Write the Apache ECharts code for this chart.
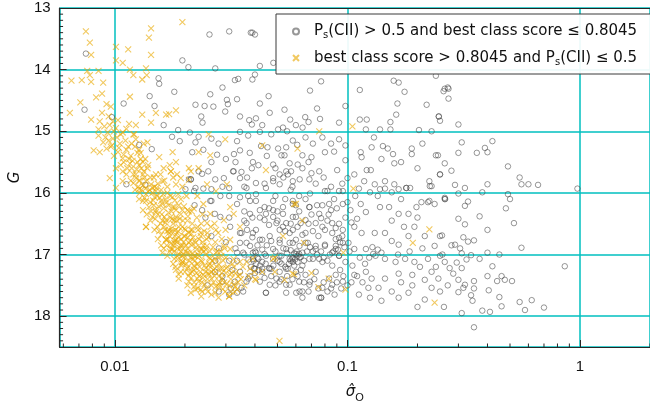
<!DOCTYPE html>
<html>
<head>
<meta charset="utf-8">
<script src="https://cdn.jsdelivr.net/npm/echarts@6/dist/echarts.min.js"></script>
<style>
  html, body { margin: 0; padding: 0; background: #ffffff; }
  #chart { width: 650px; height: 408px; }
</style>
</head>
<body>
<div id="chart"></div>
<script>
// Series labels
const grayName = 'Ps(CII) > 0.5 and best class score ≤ 0.8045';
const yellowName = 'best class score > 0.8045 and Ps(CII) ≤ 0.5';

// Axis ranges and tick labels
const xMin = 0.00578, xMax = 2;
const yMin = 13, yMax = 18.5;
const xTickValues = [0.01, 0.1, 1];
const xTickLabels = ['0.01', '0.1', '1'];
const yTickLabels = ['13', '14', '15', '16', '17', '18'];
const xMinorTicks = [0.006, 0.007, 0.008, 0.009,
  0.02, 0.03, 0.04, 0.05, 0.06, 0.07, 0.08, 0.09,
  0.2, 0.3, 0.4, 0.5, 0.6, 0.7, 0.8, 0.9, 2];
const yMinorTicks = [];
for (let k = 131; k < 185; k++) { if (k % 10 !== 0) yMinorTicks.push(k / 10); }

// [sigma_O, G]: P_s(CII) > 0.5 and best class score <= 0.8045
const grayPoints = [
  [0.0075,13.74],[0.0074,14.65],[0.0097,14.77],[0.0109,14.55],[0.0141,14.43],[0.0148,14.59],[0.0154,14.14],[0.0155,14.23],
  [0.018,14.36],[0.0195,13.85],[0.0207,13.96],[0.027,13.98],[0.0255,13.43],[0.031,13.38],[0.0384,13.4],[0.029,14.29],
  [0.0257,14.4],[0.0303,14.49],[0.0335,14.48],[0.0328,14.17],[0.0339,14.15],[0.0222,14.57],[0.0243,14.59],[0.0265,14.6],
  [0.0306,14.56],[0.0298,14.68],[0.0235,14.76],[0.0238,14.86],[0.0345,14.76],[0.0378,14.82],[0.0162,14.9],[0.0187,14.98],
  [0.021,15.02],[0.0176,15.09],[0.0229,15.09],[0.019,15.16],[0.0222,15.18],[0.026,15.12],[0.0279,15.2],[0.0335,15.16],
  [0.0345,15.01],[0.0374,15.07],[0.0345,15.31],[0.0325,15.37],[0.0275,15.38],[0.0215,15.34],[0.0127,15.22],[0.0144,15.29],
  [0.0322,15.65],[0.035,15.66],[0.0388,15.6],[0.037,15.75],[0.027,15.78],[0.0237,15.69],[0.0212,15.78],[0.0112,15.86],
  [0.039,13.4],[0.040,13.43],[0.042,13.94],[0.048,13.89],[0.040,14.08],[0.039,14.16],[0.069,14.34],[0.077,14.19],
  [0.113,14.33],[0.158,14.18],[0.166,14.21],[0.176,14.36],[0.24,14.1],[0.262,14.31],[0.27,14.29],
  [0.0458,14.43],[0.042,14.55],[0.0536,14.65],[0.0463,14.7],[0.074,14.63],[0.098,14.59],[0.164,14.55],[0.219,14.57],
  [0.0404,14.79],[0.0388,14.89],[0.0567,14.81],[0.0658,14.77],[0.068,14.85],[0.0762,14.8],[0.092,14.86],[0.113,14.81],
  [0.121,14.81],[0.153,14.85],[0.162,14.73],[0.247,14.76],[0.0528,14.94],[0.0641,14.94],[0.12,14.97],[0.138,14.97],
  [0.153,14.97],[0.203,14.98],[0.042,15.01],[0.0503,14.97],[0.0425,15.24],[0.0453,15.26],[0.0503,15.28],[0.0545,15.26],
  [0.0582,15.15],[0.0608,15.22],[0.052,15.39],[0.0536,15.39],[0.064,15.39],[0.07,15.42],[0.08,15.34],[0.0876,15.33],
  [0.092,15.13],[0.098,15.23],[0.114,15.34],[0.115,15.42],[0.127,15.26],[0.149,15.28],[0.157,15.37],[0.142,15.24],
  [0.159,15.52],[0.189,15.28],[0.189,15.37],[0.24,15.39],[0.25,15.7],[0.0392,15.5],[0.0414,15.55],[0.0479,15.54],
  [0.0564,15.52],[0.0611,15.54],[0.0572,15.65],[0.07,15.68],[0.0756,15.65],[0.0903,15.63],[0.098,15.47],[0.1,15.76],
  [0.107,15.7],[0.118,15.81],[0.121,15.63],[0.126,15.63],[0.131,15.86],[0.145,15.81],[0.159,15.86],[0.179,15.92],
  [0.225,15.81],[0.226,15.89],[0.0404,15.84],[0.044,15.85],[0.0479,15.81],[0.0511,15.7],[0.0554,15.7],[0.0623,15.78],
  [0.0686,15.78],[0.082,15.97],[0.092,15.97],[0.138,15.94],[0.155,15.99],[0.166,15.94],[0.186,15.92],[0.208,16.15],
  [0.225,16.13],[0.262,16.08],
  [0.0404,16.13],[0.044,16.23],[0.0479,16.28],[0.0528,16.34],[0.0582,16.18],[0.0686,16.23],[0.0756,16.34],[0.0834,16.18],
  [0.044,16.44],[0.0495,16.49],[0.0528,16.55],[0.0582,16.6],[0.0629,16.49],[0.066,16.65],[0.073,16.49],[0.08,16.6],
  [0.089,16.57],[0.0392,16.65],[0.042,16.76],[0.0463,16.7],[0.0511,16.76],[0.0564,16.81],[0.0622,16.86],[0.0675,16.81],
  [0.073,16.91],[0.08,16.86],[0.089,16.86],[0.0955,16.81],[0.0392,16.97],[0.0414,17.07],[0.044,16.99],[0.0479,17.07],
  [0.052,17.02],[0.0564,17.07],[0.06,16.99],[0.0622,17.05],[0.064,16.97],[0.0686,17.07],[0.0756,17.07],[0.086,16.97],
  [0.092,17.02],[0.0398,17.23],[0.043,17.28],[0.0471,17.23],[0.0511,17.28],[0.0554,17.23],[0.06,17.28],[0.066,17.33],
  [0.073,17.28],[0.0834,17.39],[0.089,17.33],[0.042,17.44],[0.0463,17.49],[0.0511,17.44],[0.0564,17.49],[0.0622,17.6],
  [0.0686,17.49],[0.0756,17.7],[0.0446,17.62],[0.0545,17.62],[0.064,17.7],[0.0771,17.7],
  [0.0212,15.78],[0.0201,15.94],[0.0219,15.97],[0.024,15.93],[0.0229,15.65],[0.0252,15.65],[0.0294,15.76],[0.0284,16.05],
  [0.0257,16.13],[0.0269,16.34],[0.0284,16.39],[0.0324,15.65],[0.0345,15.76],[0.0368,15.92],[0.0345,16.07],[0.0381,16.13],
  [0.0404,16.02],[0.0446,15.92],[0.0479,15.76],[0.0511,15.86],[0.0545,15.65],[0.0582,15.81],[0.0313,16.55],[0.0345,16.65],
  [0.0368,16.49],[0.0381,16.34],[0.042,16.28],[0.0446,16.34],[0.0479,16.39],[0.0404,16.6],[0.043,16.76],[0.0381,16.86],
  [0.0356,16.97],[0.0345,16.81],[0.0404,16.97],[0.0392,17.07],[0.0446,17.02],[0.0479,16.91],[0.0511,16.81],[0.0545,16.91],
  [0.0582,16.81],[0.0564,16.65],[0.0511,16.6],[0.0545,16.49],[0.0582,16.39],[0.0528,16.23],[0.0582,16.13],[0.0479,16.13],
  [0.043,17.23],[0.0463,17.23],[0.0511,17.12],[0.0545,17.23],[0.0582,17.12],[0.0495,17.39],[0.0545,17.49],[0.0446,17.62],
  [0.0602,17.62],[0.0335,17.62],[0.0368,17.44],
  [0.069,16.01],[0.080,15.97],[0.0876,16.1],[0.0955,15.97],[0.112,15.93],[0.125,15.99],[0.145,15.93],[0.179,15.92],
  [0.23,15.89],[0.06,16.2],[0.0686,16.23],[0.078,16.2],[0.085,16.28],[0.0955,16.18],[0.103,16.28],[0.114,16.18],
  [0.12,16.31],[0.138,16.23],[0.151,16.23],[0.166,16.34],[0.183,16.34],[0.198,16.23],[0.222,16.15],[0.237,16.18],
  [0.262,16.1],[0.06,16.39],[0.066,16.44],[0.077,16.41],[0.086,16.49],[0.0955,16.6],[0.107,16.55],[0.115,16.65],
  [0.131,16.65],[0.145,16.65],[0.155,16.78],[0.166,16.84],[0.183,16.7],[0.194,16.55],[0.215,16.7],[0.237,16.86],
  [0.25,16.7],[0.06,16.76],[0.066,16.81],[0.073,16.86],[0.08,16.84],[0.089,16.91],[0.092,16.73],[0.101,16.81],
  [0.107,16.91],[0.12,16.91],[0.129,16.99],[0.145,17.07],[0.161,17.12],[0.177,17.07],[0.194,17.12],[0.222,17.07],
  [0.25,17.02],[0.058,17.07],[0.064,17.18],[0.071,17.07],[0.078,17.12],[0.086,17.18],[0.092,17.02],[0.105,17.18],
  [0.107,17.33],[0.12,17.28],[0.127,17.39],[0.145,17.39],[0.166,17.31],[0.19,17.33],[0.215,17.41],[0.23,17.28],
  [0.246,17.39],[0.062,17.44],[0.069,17.44],[0.078,17.54],[0.086,17.49],[0.0955,17.44],[0.112,17.65],[0.123,17.54],
  [0.136,17.54],[0.166,17.7],[0.183,17.62],[0.215,17.73],[0.23,17.54],[0.077,17.7],[0.064,17.6],
  [0.259,14.35],[0.272,14.31],[0.272,14.47],[0.247,14.76],[0.25,14.83],[0.30,14.89],[0.31,15.18],[0.42,15.16],
  [0.39,15.27],[0.40,15.34],[0.36,15.35],[0.30,15.35],[0.245,15.39],[0.262,15.52],[0.49,15.57],[0.28,15.64],
  [0.25,15.7],[0.55,15.75],[0.56,15.86],[0.60,15.86],[0.66,15.87],[0.40,15.86],[0.29,15.87],[0.32,15.92],
  [0.30,16.01],[0.38,15.99],[0.975,15.93],[0.49,16.02],[0.50,16.1],[0.263,16.1],[0.33,16.14],[0.32,16.21],
  [0.48,16.25],[0.37,16.38],[0.30,16.42],[0.32,16.51],[0.52,16.49],[0.40,16.6],[0.56,16.89],[0.255,16.69],
  [0.315,16.72],[0.33,16.79],[0.35,16.77],[0.28,16.85],[0.29,16.84],[0.305,16.9],[0.31,16.98],[0.256,17.0],
  [0.34,17.01],[0.37,17.07],[0.40,16.97],[0.45,17.0],[0.325,17.08],[0.262,17.12],[0.295,17.13],[0.275,17.22],
  [0.31,17.22],[0.285,17.31],[0.42,17.19],[0.86,17.19],[0.40,17.35],[0.46,17.35],[0.44,17.43],[0.475,17.41],
  [0.51,17.43],[0.30,17.41],[0.35,17.43],[0.32,17.49],[0.315,17.54],[0.35,17.55],[0.405,17.58],[0.30,17.61],
  [0.34,17.66],[0.345,17.75],[0.45,17.69],[0.55,17.77],[0.62,17.74],[0.46,17.84],[0.58,17.9],[0.70,17.86],
  [0.38,17.91],[0.41,17.93],[0.31,17.95],[0.35,18.18],
  [0.0135,15.87],[0.0208,15.78],[0.0222,15.92],[0.026,15.94],[0.031,15.92],[0.0335,16.18],[0.0374,16.05],[0.026,16.13],
  [0.0237,16.28],[0.035,16.65],[0.0368,16.81],[0.0335,16.97],[0.031,17.1],[0.0345,17.28],[0.0374,17.39],[0.0328,17.44],
  [0.035,17.54],[0.031,17.65],[0.0356,17.6],[0.029,17.44],[0.027,17.28],[0.0398,17.23],
  [0.059,16.98],[0.061,17.02],[0.0605,16.95],[0.058,17.05],[0.062,16.99],[0.0595,17.08],[0.057,16.93],[0.063,17.04],
  [0.0395,17.1],[0.0405,17.15],[0.041,17.05],[0.0385,17.2],[0.042,17.18],[0.0375,17.08],[0.043,17.12],[0.0415,17.25],
  [0.040,16.95],[0.0445,17.15],[0.046,17.22],[0.048,17.18],[0.05,17.1],[0.052,17.15],[0.054,17.2],[0.056,17.15],
  [0.089,16.75],[0.093,16.8],[0.097,16.88],[0.091,16.92],[0.095,16.7],[0.128,16.88],[0.135,16.92],[0.14,16.97],
  [0.132,17.02],
  [0.036,16.45],[0.037,16.6],[0.039,16.72],[0.041,16.85],[0.043,16.92],[0.045,16.85],[0.047,16.78],[0.049,16.95],
  [0.051,17.02],[0.053,16.9],[0.055,16.98],[0.057,17.1],[0.059,17.18],[0.061,17.12],[0.063,17.25],[0.065,17.1],
  [0.067,16.95],[0.069,16.88],[0.071,16.95],[0.074,17.0],[0.077,16.95],[0.079,17.05],[0.082,17.1],[0.084,17.0],
  [0.087,16.95],[0.036,17.0],[0.038,17.35],[0.04,17.3],[0.044,17.38],[0.047,17.35],[0.049,17.5],[0.052,17.4],
  [0.055,17.35],[0.058,17.4],[0.061,17.35],[0.065,17.45],[0.068,17.6],[0.072,17.4],[0.075,17.55],[0.079,17.45],
  [0.082,17.6],[0.085,17.55],[0.088,17.65],[0.094,17.55],[0.1,17.5],[0.104,17.45],[0.11,17.35],[0.116,17.45],
  [0.119,17.15],[0.124,17.05],[0.113,17.05],[0.102,16.95],[0.098,17.12],[0.093,17.25],[0.096,17.35],[0.09,17.45],
  [0.042,16.4],[0.046,16.52],[0.05,16.45],[0.054,16.62],[0.057,16.5],[0.061,16.55],[0.064,16.68],[0.068,16.5],
  [0.071,16.62],[0.075,16.7],[0.078,16.55],[0.082,16.45],[0.086,16.65],[0.092,16.5],[0.098,16.4],[0.104,16.48],
  [0.11,16.42],[0.062,16.3],[0.066,16.1],[0.07,16.35],[0.074,16.2],[0.083,16.35],[0.09,16.25],[0.1,16.15],
  [0.108,16.05],[0.049,16.05],[0.054,16.1],[0.057,15.95],[0.062,16.05],[0.046,16.25],[0.05,16.3],[0.036,16.3],
  [0.039,16.4],
  [0.043,14.9],[0.047,15.05],[0.055,15.0],[0.06,14.9],[0.066,15.1],[0.071,15.2],[0.078,15.1],[0.085,15.2],
  [0.045,15.4],[0.049,15.6],[0.053,15.75],[0.058,15.9],[0.064,15.6],[0.068,15.5],[0.073,15.85],[0.079,15.75],
  [0.085,15.9],[0.095,15.85],[0.036,15.9],[0.038,15.35],[0.033,15.5],[0.03,15.45],[0.029,15.9],[0.031,16.05],
  [0.026,15.5],[0.024,15.3],
  [0.13,15.1],[0.14,15.45],[0.17,15.5],[0.2,15.6],[0.21,15.2],[0.23,15.0],[0.135,16.05],[0.17,16.1],
  [0.2,16.4],[0.155,16.45],[0.175,16.55],[0.21,16.9],[0.165,17.0],[0.185,16.95],[0.205,17.2],[0.24,17.2],
  [0.17,17.45],[0.155,17.6],[0.19,17.5],[0.25,17.6],[0.27,17.5],[0.26,17.85],[0.2,17.85],[0.14,17.75],
  [0.125,17.7],
  [0.026,16.7],[0.028,16.9],[0.03,16.8],[0.027,17.1],[0.029,17.35],[0.032,17.25],[0.033,16.9],[0.025,17.5],
  [0.0245,16.4],[0.022,16.2],[0.031,16.4],[0.0315,17.55],[0.028,17.6],[0.0335,17.1]
];

// [sigma_O, G]: best class score > 0.8045 and P_s(CII) <= 0.5
const yellowPoints = [
  [0.0075,13.38],[0.0078,13.56],[0.0079,13.76],[0.0143,13.33],[0.014,13.48],[0.0195,13.23],[0.0101,13.63],[0.0114,13.67],
  [0.0143,13.76],[0.0101,13.85],[0.0108,13.89],[0.0076,14.02],[0.0085,14.02],[0.0078,14.09],[0.0065,14.18],[0.0072,14.17],
  [0.0079,14.2],[0.0089,14.21],[0.0116,14.0],[0.012,14.09],[0.0131,14.16],[0.0137,14.09],[0.0136,13.98],[0.0088,14.39],
  [0.0083,14.45],[0.0071,14.53],[0.0092,14.56],[0.0116,14.44],[0.0064,14.7],[0.0079,14.81],[0.0086,14.84],[0.0094,14.76],
  [0.0098,14.84],[0.0103,14.82],[0.0131,14.73],[0.0143,14.86],[0.015,14.7],[0.0166,14.73],[0.0171,14.72],[0.0183,14.66],
  [0.0123,14.9],[0.0112,14.96],[0.009,14.92],[0.0085,14.97],[0.0108,15.02],[0.012,15.05],[0.0123,15.13],[0.0085,15.07],
  [0.0089,15.18],[0.0094,15.15],[0.0097,15.23],[0.0081,15.31],[0.0086,15.34],[0.0092,15.28],[0.0103,15.34],[0.0108,15.44],
  [0.0116,15.52],[0.0127,15.55],[0.0132,15.5],[0.0138,15.18],[0.0155,15.42],[0.0177,15.34],[0.0183,15.5],[0.0208,15.6],
  [0.0229,15.34],[0.0253,15.05],[0.0298,15.13],[0.0257,15.39],[0.0101,15.6],[0.0108,15.65],[0.0123,15.7],[0.0127,15.8],
  [0.0132,15.88],[0.013,15.6],[0.015,15.7],[0.016,15.81],[0.0174,15.65],[0.0183,15.86],[0.0208,15.79],[0.0136,15.92],
  [0.015,15.97],
  [0.0133,15.65],[0.0143,15.86],[0.0136,16.02],[0.0132,16.13],[0.0148,16.07],[0.0158,16.13],[0.014,16.23],[0.015,16.31],
  [0.0163,16.39],[0.0136,16.55],[0.0174,15.65],[0.0192,15.76],[0.0212,15.65],[0.0229,15.6],[0.0192,16.1],[0.018,16.23],
  [0.0205,16.28],[0.018,16.44],[0.0171,16.6],[0.0185,16.65],[0.0166,16.76],[0.018,16.81],[0.0192,16.86],[0.0174,16.91],
  [0.0198,16.7],[0.0212,16.6],[0.0222,16.81],[0.0234,16.65],[0.0249,16.49],[0.0205,16.97],[0.0219,17.02],[0.0234,16.91],
  [0.0249,16.86],[0.0185,17.02],[0.0195,17.12],[0.0205,17.23],[0.0219,17.18],[0.0237,17.12],[0.0257,17.07],[0.0272,16.97],
  [0.0294,16.86],[0.0313,16.76],[0.024,17.33],[0.026,17.28],[0.0284,17.23],[0.0226,17.39],[0.0219,17.52],[0.0234,17.57],
  [0.0272,17.52],[0.026,17.65],[0.0279,17.7],[0.031,17.68],[0.0324,17.49],[0.0335,17.57],[0.0345,17.33],[0.0368,17.12],
  [0.0381,17.23],[0.0398,17.28],[0.043,17.28],[0.0345,17.12],[0.0324,17.07],[0.0313,16.91],[0.0345,16.55],[0.0324,16.34],
  [0.0294,16.44],[0.0272,16.6],[0.0257,16.34],[0.024,16.18],[0.0226,16.05],[0.0272,15.97],[0.0303,15.86],[0.0249,15.86],
  [0.0313,16.23],[0.0479,17.07],[0.0487,17.28],[0.0404,17.41],
  [0.0095,15.76],[0.0108,15.81],[0.012,15.84],[0.0127,16.1],[0.0136,16.13],[0.0132,16.28],[0.0145,16.39],[0.0136,16.55],
  [0.015,16.28],[0.016,16.18],[0.0155,16.62],[0.0166,16.76],[0.0171,16.65],[0.0183,16.76],[0.0177,16.91],[0.016,16.97],
  [0.018,17.07],[0.0195,17.12],[0.0192,17.28],[0.0188,17.39],[0.0208,17.44],[0.0229,17.44],[0.0222,17.57],[0.0237,17.6],
  [0.0279,17.52],[0.031,17.68],[0.0195,17.02],[0.0208,16.81],[0.0222,17.02],[0.0237,16.91],[0.0253,17.18],[0.027,17.07],
  [0.029,17.23],[0.026,17.39],[0.0245,17.28],[0.0215,17.28],[0.0208,16.65],[0.0188,16.55],[0.0183,16.39],[0.0195,16.28],
  [0.0166,16.44],[0.0177,16.23],[0.0177,16.07],[0.0145,15.92],[0.0127,15.94],[0.0136,15.81],[0.0123,15.76],[0.0101,15.92],
  [0.0185,16.8],[0.0195,16.85],[0.0205,16.9],[0.021,16.78],[0.02,16.7],[0.0192,16.95],[0.0215,16.98],[0.0225,16.92],
  [0.0198,17.05],[0.0208,17.1],[0.0188,16.72],[0.0178,16.85],[0.0172,16.7],[0.0182,16.6],[0.0195,16.55],[0.0215,16.6],
  [0.023,16.75],[0.024,16.85],[0.0245,17.0],[0.0235,17.1],[0.022,17.2],[0.021,17.3],[0.0255,17.15],[0.0265,17.25],
  [0.028,17.35],[0.0265,17.45],[0.025,17.4],[0.023,17.35],[0.0165,16.1],[0.017,16.2],[0.0175,16.3],[0.0162,16.25],
  [0.0168,16.0],[0.0158,15.95],[0.0152,16.05],[0.0148,15.9],[0.0142,15.75],[0.0138,15.6],[0.0132,15.7],[0.0128,15.8],
  [0.0125,15.5],[0.0118,15.6],[0.0115,15.45],[0.0112,15.3],[0.0105,15.2],[0.0102,15.1],[0.0118,15.2],[0.0125,15.35],
  [0.013,15.95],[0.0145,16.0],[0.016,16.45],[0.0178,16.5],[0.0185,16.45],[0.0192,16.35],[0.0205,16.45],[0.0215,16.5],
  [0.0225,16.4],[0.0235,16.5],[0.025,16.65],[0.027,16.8],[0.0285,16.95],[0.03,17.05],[0.032,17.15],[0.03,17.3],
  [0.0295,17.45],[0.0315,17.4],[0.033,17.3],[0.0355,17.2],[0.0375,17.35],[0.04,17.4],
  [0.106,15.93],[0.06,16.18],[0.064,16.45],[0.225,16.59],[0.191,16.81],[0.096,16.97],[0.070,17.3],[0.059,17.32],
  [0.083,17.39],[0.075,17.53],[0.098,17.57],[0.237,17.78],[0.0756,15.0],[0.105,14.92],[0.043,15.23],[0.061,15.28],
  [0.0446,15.63],[0.059,16.18],[0.0528,16.7],[0.065,16.81],[0.0536,17.41],[0.0487,17.05],[0.0392,17.07],[0.058,17.31],
  [0.051,18.4],
  [0.0142,16.15],[0.0147,16.2],[0.0153,16.35],[0.0157,16.5],[0.0163,16.55],[0.0168,16.62],[0.0173,16.4],[0.0176,16.62],
  [0.0181,16.7],[0.0186,16.9],[0.0189,17.0],[0.0193,17.18],[0.0197,16.8],[0.0201,16.95],[0.0203,17.15],[0.0207,17.35],
  [0.0211,17.05],[0.0214,16.85],[0.0217,16.72],[0.0221,17.1],[0.0224,17.3],[0.0228,17.0],[0.0231,17.2],[0.0236,17.45],
  [0.0241,16.95],[0.0243,17.18],[0.0247,17.55],[0.0252,17.3],[0.0256,16.95],[0.0262,17.1],[0.0268,17.35],[0.0274,17.2],
  [0.0278,17.05],[0.0283,17.45],[0.0288,17.3],[0.0292,17.1],[0.0298,17.6],[0.0305,17.2],[0.031,17.5],[0.0318,17.3],
  [0.0327,17.6],[0.0338,17.45],[0.0348,17.4],[0.036,17.5],[0.0172,16.95],[0.0167,16.85],[0.0178,17.15],[0.0183,17.25],
  [0.0188,16.2],[0.0196,16.45],[0.0201,16.6],[0.0208,16.3],[0.0218,16.25],[0.0228,16.6],[0.0238,16.35],[0.0248,16.75],
  [0.0258,16.55],[0.0268,16.5],[0.0278,16.65],[0.0288,16.75],[0.0299,16.6],[0.0163,15.8],[0.0168,15.9],[0.0157,15.7],
  [0.0153,15.85],[0.0147,15.75],[0.0141,15.95],[0.0137,16.35],[0.0135,15.45],[0.0129,15.35],[0.0122,15.25],[0.0117,15.4],
  [0.0113,15.6],[0.0109,15.5],[0.0106,15.05],[0.0099,15.0],[0.0095,14.9],[0.0091,15.1],[0.0088,14.7],[0.0096,14.6],
  [0.0101,14.95],[0.0111,15.15],[0.012,15.7],[0.0126,15.9],[0.0142,16.45],[0.0148,16.6],[0.0153,16.75],[0.0158,16.85],
  [0.0195,15.9],[0.0185,15.7],[0.0203,16.05],[0.0178,15.75],[0.0172,15.55],[0.0162,15.6],
  [0.0128,16.0],[0.0134,16.08],[0.0139,15.98],[0.0146,16.12],[0.0151,15.92],[0.0156,16.08],[0.0161,16.02],[0.0167,16.15],
  [0.0173,16.05],[0.0181,16.12],[0.0187,16.02],[0.0143,16.3],[0.0149,16.42],[0.0154,16.22],[0.0159,16.35],[0.0165,16.48],
  [0.017,16.32],[0.0176,16.42],[0.0183,16.28],[0.019,16.42],[0.0198,16.22],[0.0206,16.38],[0.0214,16.3],[0.0152,16.55],
  [0.0158,16.68],[0.0164,16.6],[0.0169,16.75],[0.0175,16.58],[0.0181,16.78],[0.0187,16.62],[0.0193,16.75],[0.0199,16.58],
  [0.0206,16.72],[0.0213,16.66],[0.022,16.78],[0.0227,16.55],[0.0234,16.7],[0.0242,16.62],[0.0252,16.72],[0.0162,16.9],
  [0.0168,17.02],[0.0174,16.82],[0.018,16.95],[0.0186,17.08],[0.0191,16.9],[0.0197,17.0],[0.0202,16.85],[0.0209,16.98],
  [0.0216,17.08],[0.0223,16.88],[0.023,17.02],[0.0238,16.8],[0.0246,16.92],[0.0255,17.05],[0.0264,16.88],[0.0275,16.95],
  [0.0287,17.02],[0.0296,16.9],[0.0182,17.2],[0.0188,17.32],[0.0194,17.15],[0.02,17.28],[0.0206,17.2],[0.0213,17.38],
  [0.0219,17.25],[0.0226,17.15],[0.0233,17.28],[0.0239,17.38],[0.0246,17.22],[0.0254,17.32],[0.0261,17.18],[0.027,17.28],
  [0.0279,17.15],[0.0289,17.38],[0.0301,17.22],[0.0312,17.32],[0.0325,17.2],[0.0338,17.35],[0.0205,17.5],[0.0212,17.62],
  [0.0219,17.45],[0.0227,17.55],[0.0235,17.68],[0.0243,17.48],[0.0251,17.6],[0.026,17.5],[0.027,17.62],[0.028,17.48],
  [0.0291,17.56],[0.0302,17.48],[0.0316,17.6],[0.033,17.52],
  [0.0093,15.02],[0.0098,15.12],[0.0104,15.27],[0.0109,15.38],[0.0114,15.25],[0.0119,15.48],[0.0124,15.62],[0.0129,15.45],
  [0.0134,15.75],[0.0139,15.55],[0.0112,15.7],[0.0106,15.55],[0.0117,15.8],[0.0122,15.95],[0.0099,15.4],[0.0096,15.25],
  [0.0121,15.05],[0.0115,14.88],[0.0127,15.3],[0.0133,15.2]
];

const chart = echarts.init(document.getElementById('chart'), null, { renderer: 'canvas' });

const FONT = 'Liberation Sans';
const LEGEND_FONT = 'DejaVu Sans';
const spine = '#262626';
const gridCyan = '#00bfbf';
const grayStroke = 'rgba(70,70,70,0.7)';
const yellowStroke = 'rgba(232,168,0,0.78)';
const xMarker = 'path://M0,0L10,10M10,0L0,10';

function isMajorX(v) {
  const l = Math.log10(v);
  return Math.abs(l - Math.round(l)) < 1e-6;
}

chart.setOption({
  backgroundColor: '#ffffff',
  animation: false,
  grid: { left: 58, top: 8, width: 596, height: 349, containLabel: false },
  legend: {
    data: [grayName, yellowName],
    orient: 'vertical',
    left: 276,
    top: 14,
    padding: [10, 14, 7, 16],
    itemGap: 10,
    itemWidth: 26,
    itemHeight: 6,
    backgroundColor: 'rgba(255,255,255,0.92)',
    borderColor: '#3a3a3a',
    borderWidth: 1,
    borderRadius: 0,
    z: 20,
    selectedMode: false,
    formatter: function (name) {
      if (name === grayName) {
        return '{t|P}{s|s}{t|(CII) > 0.5 and best class score ≤ 0.8045}';
      }
      return '{t|best class score > 0.8045 and P}{s|s}{t|(CII) ≤ 0.5}';
    },
    textStyle: {
      fontFamily: LEGEND_FONT,
      fontSize: 15,
      color: '#111',
      rich: {
        t: { fontFamily: LEGEND_FONT, fontSize: 15, color: '#111', lineHeight: 18 },
        s: { fontFamily: LEGEND_FONT, fontSize: 10, color: '#111', lineHeight: 18, verticalAlign: 'bottom' }
      }
    }
  },
  xAxis: [{
    type: 'log',
    logBase: 10,
    min: xMin,
    max: xMax,
    name: '{a|σ̂}{b|O}',
    nameLocation: 'middle',
    nameGap: 34,
    nameTextStyle: {
      rich: {
        a: { fontFamily: 'DejaVu Sans', fontStyle: 'italic', fontSize: 15, color: '#111' },
        b: { fontFamily: FONT, fontSize: 11, color: '#111', verticalAlign: 'bottom', lineHeight: 22 }
      }
    },
    axisLine: { show: true, lineStyle: { color: spine, width: 1.2 } },
    axisTick: { show: true, inside: true, length: 7, lineStyle: { color: spine, width: 1 } },
    axisLabel: {
      show: true,
      margin: 12,
      fontFamily: FONT,
      fontSize: 15,
      color: '#111',
      showMinLabel: false,
      showMaxLabel: false,
      formatter: function (v) {
        if (!isMajorX(v)) return '';
        const idx = xTickValues.findIndex(t => Math.abs(Math.log10(t) - Math.log10(v)) < 1e-6);
        return idx >= 0 ? xTickLabels[idx] : '';
      }
    },
    splitLine: { show: true, lineStyle: { color: gridCyan, width: 1.5 } }
  }, {
    type: 'log',
    logBase: 10,
    min: xMin,
    max: xMax,
    position: 'top',
    z: 10,
    axisLine: { show: true, lineStyle: { color: spine, width: 1.2 } },
    axisTick: { show: false },
    axisLabel: { show: false },
    splitLine: { show: false }
  }],
  yAxis: {
    type: 'value',
    min: yMin,
    max: yMax,
    interval: 1,
    inverse: true,
    name: 'G',
    nameLocation: 'middle',
    nameGap: 28,
    nameTextStyle: { fontFamily: 'DejaVu Sans', fontStyle: 'italic', fontSize: 15, color: '#111' },
    axisLine: { show: true, lineStyle: { color: spine, width: 1.2 } },
    axisTick: { show: true, inside: true, length: 7, lineStyle: { color: spine, width: 1 } },
    axisLabel: {
      fontFamily: FONT,
      fontSize: 15,
      color: '#111',
      margin: 9,
      showMaxLabel: false,
      formatter: function (v) {
        const i = Math.round(v) - yMin;
        return Math.abs(v - Math.round(v)) < 1e-6 && yTickLabels[i] ? yTickLabels[i] : '';
      }
    },
    splitLine: { show: true, lineStyle: { color: gridCyan, width: 1.5 } }
  },
  series: [
    {
      name: grayName,
      type: 'scatter',
      xAxisIndex: 0,
      data: grayPoints,
      symbol: 'circle',
      symbolSize: 5.5,
      itemStyle: { color: 'rgba(0,0,0,0)', borderColor: grayStroke, borderWidth: 1 },
      emphasis: { disabled: true },
      z: 3
    },
    {
      name: yellowName,
      type: 'scatter',
      xAxisIndex: 0,
      data: yellowPoints,
      symbol: xMarker,
      symbolSize: 6,
      itemStyle: { color: 'rgba(0,0,0,0)', borderColor: yellowStroke, borderWidth: 1.1 },
      emphasis: { disabled: true },
      z: 4
    },
    {
      // minor ticks along the bottom axis
      type: 'custom',
      xAxisIndex: 0,
      silent: true,
      clip: false,
      z: 6,
      data: xMinorTicks.map(v => [v, yMax]),
      renderItem: function (params, api) {
        const p = api.coord([api.value(0), api.value(1)]);
        return { type: 'line', shape: { x1: p[0], y1: p[1], x2: p[0], y2: p[1] - 3.5 },
                 style: { stroke: spine, lineWidth: 1 } };
      }
    },
    {
      // minor ticks along the left axis
      type: 'custom',
      xAxisIndex: 0,
      silent: true,
      clip: false,
      z: 6,
      data: yMinorTicks.map(v => [xMin, v]),
      renderItem: function (params, api) {
        const p = api.coord([api.value(0), api.value(1)]);
        return { type: 'line', shape: { x1: p[0], y1: p[1], x2: p[0] + 3.5, y2: p[1] },
                 style: { stroke: spine, lineWidth: 1 } };
      }
    }
  ]
});
</script>
</body>
</html>
